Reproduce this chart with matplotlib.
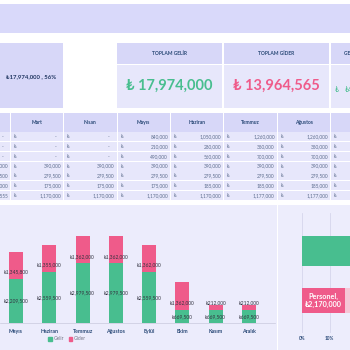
import matplotlib
matplotlib.use('Agg')
import matplotlib.pyplot as plt
from matplotlib.patches import Rectangle
from matplotlib.lines import Line2D

plt.rcParams['font.family'] = ['Lato', 'DejaVu Sans']

# ---------------- data ----------------
kpi_titles = ['TOPLAM GELİR', 'TOPLAM GİDER', 'GELİR - GİDER']
kpi_values = ['₺ 17,974,000', '₺ 13,964,565', '₺ ₺4,009,435']
share_text = '₺17,974,000 , 56%'

table_months = ['Şubat', 'Mart', 'Nisan', 'Mayıs', 'Haziran', 'Temmuz', 'Ağustos', 'Eylül']
col_subat = ['-', '-', '-', '390,000', '279,500', '175,000', '1,170,555']
col_mart = ['-', '-', '-', '390,000', '279,500', '175,000', '1,170,000']
col_nisan = ['-', '-', '-', '390,000', '279,500', '175,000', '1,170,000']
col_mayis = ['840,000', '210,000', '490,000', '390,000', '279,500', '175,000', '1,170,000']
col_haziran = ['1,050,000', '280,000', '560,000', '390,000', '279,500', '185,000', '1,170,000']
col_temmuz = ['1,260,000', '350,000', '700,000', '390,000', '279,500', '185,000', '1,177,000']
col_agustos = ['1,260,000', '350,000', '700,000', '390,000', '279,500', '185,000', '1,177,000']
col_eylul = ['1,260,000', '350,000', '700,000', '390,000', '279,500', '185,000', '1,177,000']
table_cols = [col_subat, col_mart, col_nisan, col_mayis, col_haziran,
              col_temmuz, col_agustos, col_eylul]

chart_months = ['Mayıs', 'Haziran', 'Temmuz', 'Ağustos', 'Eylül', 'Ekim', 'Kasım', 'Aralık']
gelir = [2209500, 2559500, 2979500, 2979500, 2559500, 669500, 669500, 669500]
gider = [1345800, 1355000, 1362000, 1362000, 1362000, 1362000, 212000, 212000]

share_cats = ['Gelir', 'Personel']
share_pct = [56.3, 15.5]
share_rest = [0, 84.5]
personel_amount = '₺2,170,000'

# ---------------- style ----------------
GREEN = '#48BE8F'
PINK = '#EF5B8A'
LPINK = '#F6C6D6'
NAVY = '#2B4A78'
GREYTXT = '#5E6E8E'
HDR = '#D7D7F8'
BODY = '#E7E7FB'
PANEL = '#ECECFC'

fig = plt.figure(figsize=(3.5, 3.5), dpi=100)
fig.patch.set_facecolor('white')

ax0 = fig.add_axes([0, 0, 1, 1])
ax0.set_xlim(0, 350)
ax0.set_ylim(350, 0)
ax0.axis('off')

def rect(x, y, w, h, c):
    ax0.add_patch(Rectangle((x, y), w, h, facecolor=c, edgecolor='none'))

# banner
rect(0, 4, 350, 29, '#D9D9FA')
# left share box
rect(0, 43, 63, 65, HDR)
ax0.text(31, 77, share_text, ha='center', va='center', fontsize=4.3,
         fontweight='bold', color='#1F3560')

# KPI cards
card_x = [117, 224, 330.5]
card_w = [105, 104.5, 60]
kpi_colors = [GREEN, PINK, GREEN]
for i in range(3):
    rect(card_x[i], 43, card_w[i], 21, HDR)
    rect(card_x[i], 65, card_w[i], 43, BODY)
    cx = card_x[i] + card_w[i] / 2
    ax0.text(cx, 53.5, kpi_titles[i], ha='center', va='center', fontsize=3.6,
             fontweight='bold', color=NAVY)
for i in range(2):
    cx = card_x[i] + card_w[i] / 2
    ax0.text(cx, 86, kpi_values[i], ha='center', va='center', fontsize=10.5,
             fontweight='bold', color=kpi_colors[i])
ax0.text(335, 89, '₺', ha='left', va='center', fontsize=5, color=GREEN)
ax0.text(345, 89, kpi_values[2][2:], ha='left', va='center', fontsize=5,
         color=GREEN, clip_on=True)

# table
col_left = [-43, 10.5, 63.8, 117.1, 170.4, 223.7, 277.0, 330.3]
col_w = 53.3
hdr_top, hdr_h = 113, 19
row_top, row_h = 132, 9.75
for j, month in enumerate(table_months):
    xl = col_left[j]
    rect(xl + 0.5, hdr_top, col_w - 1, hdr_h, HDR)
    ax0.text(xl + col_w / 2 + (3 if j == 7 else 0), hdr_top + hdr_h / 2, month,
             ha='center', va='center', fontsize=3.6, fontweight='bold', color=NAVY)
    for r, val in enumerate(table_cols[j]):
        yt = row_top + r * row_h
        rect(xl + 0.5, yt + 0.4, col_w - 1, row_h - 0.8, BODY)
        yc = yt + row_h / 2
        ax0.text(xl + 3.5, yc, '₺', ha='left', va='center', fontsize=3.4, color=GREYTXT)
        if val == '-':
            ax0.text(xl + 46, yc, '-', ha='right', va='center', fontsize=3.4, color=GREYTXT)
        else:
            ax0.text(xl + 51, yc, val, ha='right', va='center', fontsize=3.4, color=GREYTXT)

# bottom panels
rect(0, 205, 276.5, 145, PANEL)
rect(278, 205, 72, 145, '#EDEDFC')

# ---------------- stacked bar chart ----------------
axb = fig.add_axes([0, 1 - 323 / 350, 275 / 350, 118 / 350])
axb.patch.set_alpha(0)
x = list(range(len(chart_months)))
bw = 0.42
axb.bar(x, gelir, width=bw, color=GREEN, zorder=2)
axb.bar(x, gider, width=bw, bottom=gelir, color=PINK, zorder=2)
axb.set_xlim(-0.48, 7.78)
axb.set_ylim(0, 5.9e6)
for i in x:
    axb.text(i, gelir[i] / 2, '₺{:,}'.format(gelir[i]), ha='center', va='center',
             fontsize=3.5, color='#333340', zorder=3)
    axb.annotate('₺{:,}'.format(gider[i]), (i, gelir[i]), xytext=(0, 5),
                 textcoords='offset points', ha='center', va='center',
                 fontsize=3.5, color='#333340', zorder=3)
for s in ['top', 'right', 'left']:
    axb.spines[s].set_visible(False)
axb.spines['bottom'].set_color('#C9C9DD')
axb.spines['bottom'].set_linewidth(0.5)
axb.set_yticks([])
axb.set_xticks(x)
axb.set_xticklabels(chart_months, fontsize=3.8, fontweight='bold', color=NAVY)
axb.tick_params(axis='x', length=0, pad=4.2)
handles = [Rectangle((0, 0), 1, 1, color=GREEN), Rectangle((0, 0), 1, 1, color=PINK)]
leg = axb.legend(handles, ['Gelir', 'Gider'], loc='center',
                 bbox_to_anchor=(67 / 275, -16 / 118), ncol=2, frameon=False,
                 fontsize=3.5, handlelength=0.7, handleheight=0.7,
                 handletextpad=0.3, columnspacing=1.0, labelcolor='#777788')

# ---------------- share bar chart ----------------
axr = fig.add_axes([278 / 350, 1 - 333 / 350, 72 / 350, 120 / 350])
axr.patch.set_alpha(0)
yy = list(range(len(share_cats)))
axr.barh(yy[0], share_pct[0], height=0.6, color=GREEN, zorder=2)
axr.barh(yy[1], share_pct[1], height=0.5, color=PINK, zorder=2)
axr.barh(yy[1], share_rest[1], left=share_pct[1], height=0.5, color=LPINK, zorder=2)
axr.text(share_pct[1] / 2, yy[1], 'Personel,\n' + personel_amount, ha='center',
         va='center', fontsize=5.2, fontweight='bold', color='white',
         linespacing=1.3, zorder=3)
axr.set_xlim(-8.66, 17.33)
axr.set_ylim(1.657, -0.768)
axr.set_xticks([0, 10])
axr.set_xticklabels(['0%', '10%'], fontsize=3.3, fontweight='bold', color=NAVY)
axr.set_yticks([])
axr.tick_params(axis='x', length=0, pad=2.5)
axr.grid(axis='x', color='#D6D6EC', linewidth=0.6, zorder=0)
for s in axr.spines.values():
    s.set_visible(False)

fig.savefig('out.png', dpi=100, facecolor='white')
